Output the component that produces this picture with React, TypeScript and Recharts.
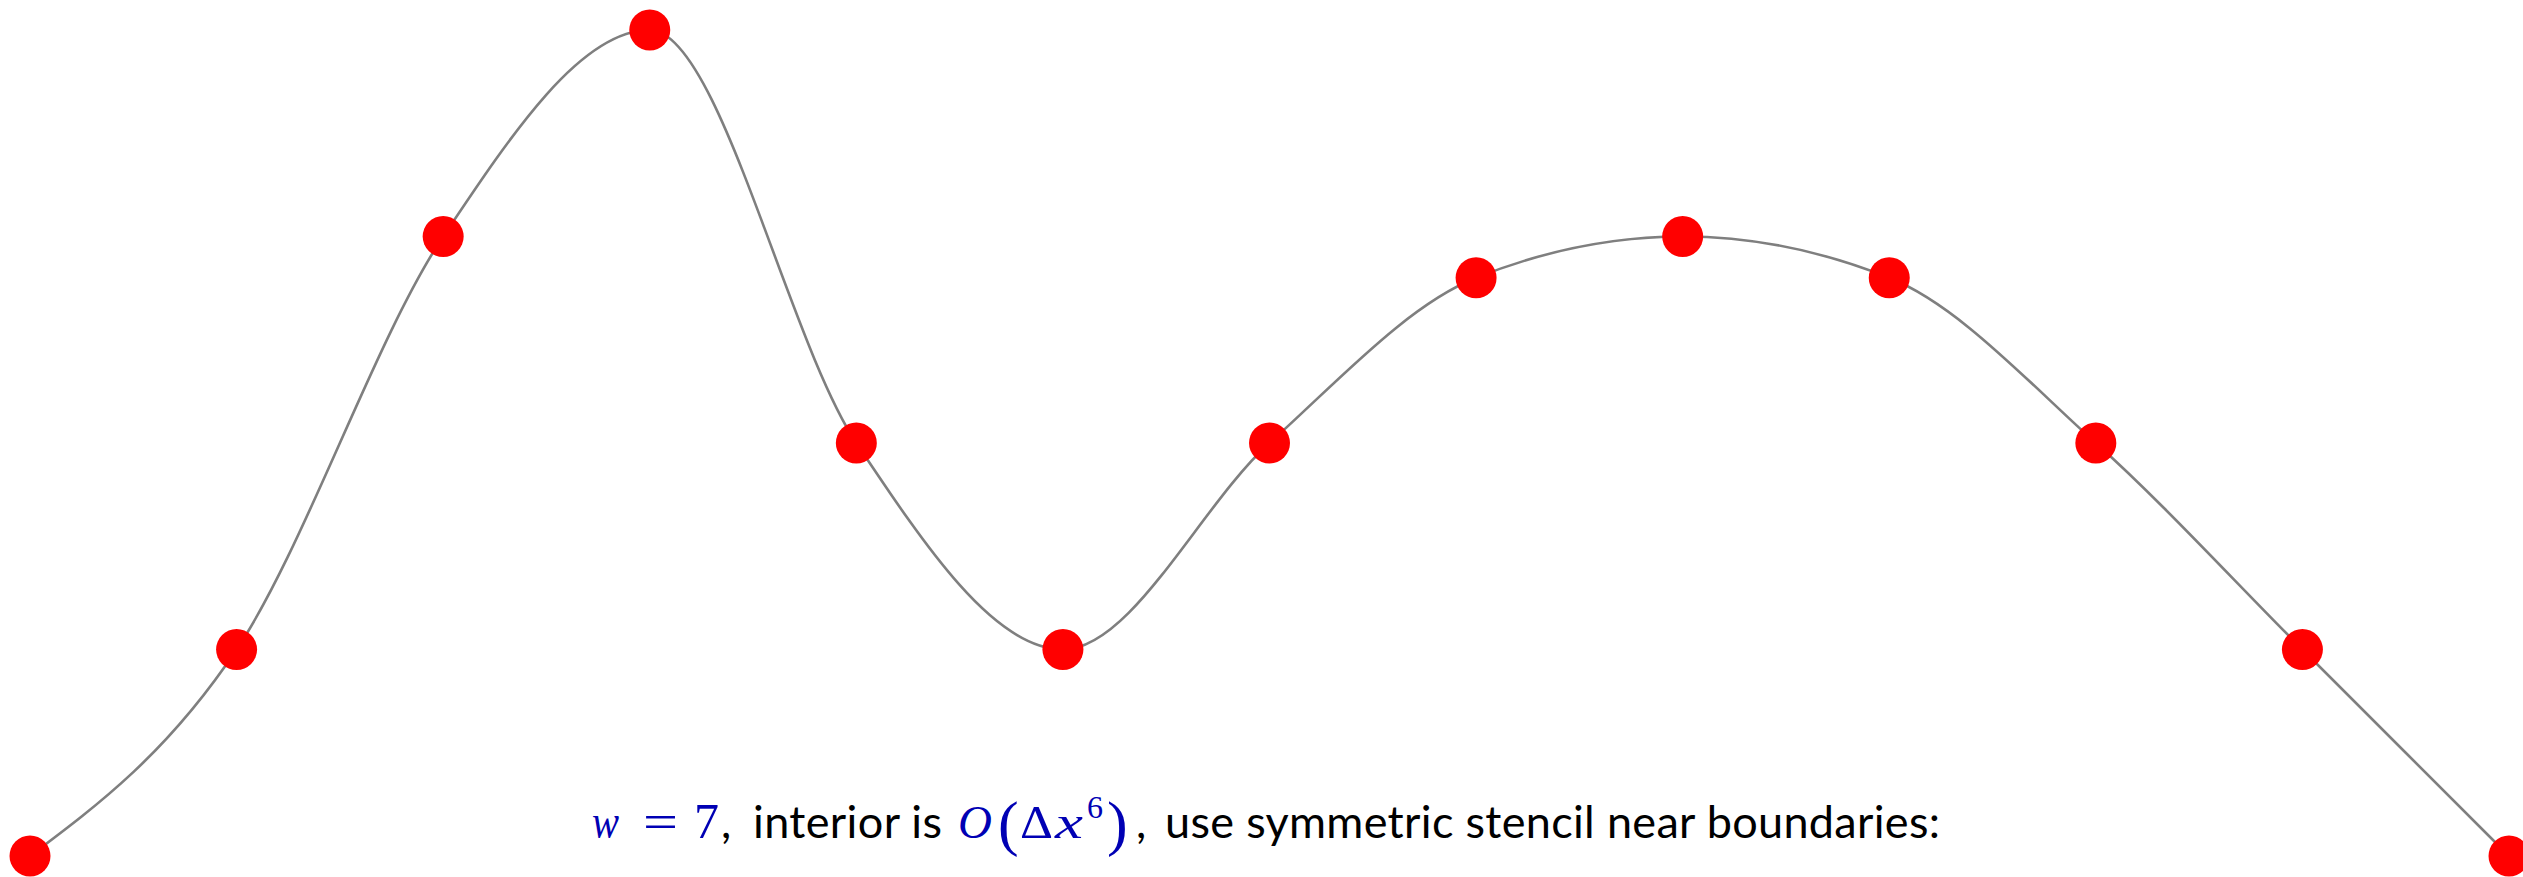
import React from "react";
import { LineChart, Line, XAxis, YAxis } from "recharts";

const xs = [0, 1, 2, 3, 4, 5, 6, 7, 8, 9, 10, 11, 12];
const ys = [0, 1, 3, 4, 2, 1, 2, 2.8, 3, 2.8, 2, 1, 0];

const data = xs.map((x, i) => ({ x, y: ys[i] }));

const W = 2523;
const H = 877;

const blue = "#0000B4";
const sans = "Lato, 'Open Sans', sans-serif";
const serif = "'Liberation Serif', 'DejaVu Serif', serif";
const BASE = 838;

export default function App() {
  return (
    <div style={{ position: "absolute", left: 0, top: 0, width: W, height: H, background: "#fff" }}>
      <LineChart width={W} height={H} data={data} margin={{ top: 30, right: 14, bottom: 21, left: 30 }}>
        <XAxis dataKey="x" type="number" domain={[0, 12]} hide />
        <YAxis type="number" domain={[0, 4]} hide />
        <Line
          dataKey="y"
          type="monotone"
          stroke="#7F7F7F"
          strokeWidth={2.6}
          isAnimationActive={false}
          dot={{ r: 20.5, fill: "#FF0000", stroke: "none", strokeWidth: 0 }}
        />
      </LineChart>
      <svg width={W} height={H} style={{ position: "absolute", left: 0, top: 0, pointerEvents: "none" }}>
        <g fill={blue} fontFamily={serif}>
          <text x={592} y={BASE} fontSize={48} fontStyle="italic" textLength={27} lengthAdjust="spacingAndGlyphs">w</text>
          <text x={643} y={BASE} fontSize={48} textLength={35} lengthAdjust="spacingAndGlyphs">=</text>
          <text x={694} y={BASE} fontSize={50}>7</text>
          <text x={958} y={BASE} fontSize={47} fontStyle="italic">O</text>
          <text x={998} y={844} fontSize={62}>(</text>
          <text x={1020} y={BASE} fontSize={47} textLength={33} lengthAdjust="spacingAndGlyphs">Δ</text>
          <text x={1055} y={BASE} fontSize={47} fontStyle="italic" textLength={28} lengthAdjust="spacingAndGlyphs">x</text>
          <text x={1087} y={818} fontSize={32}>6</text>
          <text x={1107} y={844} fontSize={62}>)</text>
        </g>
        <g fill="#000" fontFamily={sans} fontSize={45}>
          <text x={721} y={BASE}>,</text>
          <text x={753} y={BASE} textLength={189}>interior is</text>
          <text x={1136} y={BASE}>,</text>
          <text x={1165} y={BASE} textLength={775}>use symmetric stencil near boundaries:</text>
        </g>
      </svg>
    </div>
  );
}
